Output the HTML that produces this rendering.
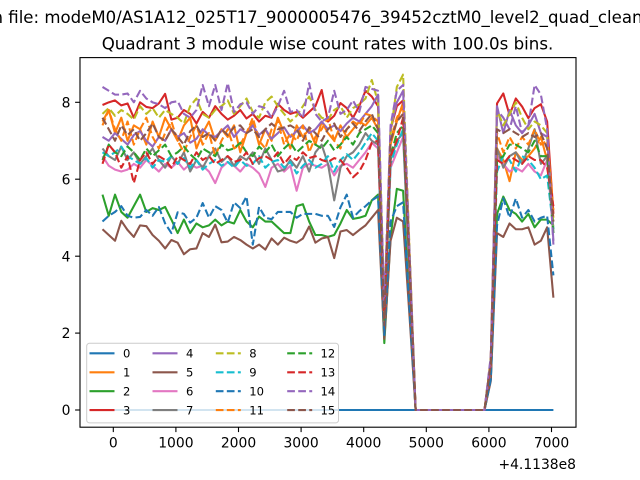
<!DOCTYPE html>
<html>
<head>
<meta charset="utf-8">
<style>
html,body{margin:0;padding:0;background:#fff;}
svg{display:block;}
text{font-family:"DejaVu Sans","Liberation Sans",sans-serif;fill:#000;}
.s{fill:none;stroke-width:2.08;vector-effect:non-scaling-stroke;stroke-linejoin:round;}
.d{stroke-dasharray:7.7 3.33;}
</style>
</head>
<body>
<svg width="640" height="480" viewBox="0 0 640 480" xmlns="http://www.w3.org/2000/svg">
<rect x="0" y="0" width="640" height="480" fill="#fff"/>
<defs><clipPath id="ax"><rect x="80" y="57.6" width="496" height="369.6"/></clipPath></defs>

<text x="-7.5" y="23" font-size="16.67" textLength="650" lengthAdjust="spacingAndGlyphs">n file: modeM0/AS1A12_025T17_9000005476_39452cztM0_level2_quad_clean</text>
<text x="101.7" y="49.3" font-size="16.67" textLength="451.6" lengthAdjust="spacingAndGlyphs">Quadrant 3 module wise count rates with 100.0s bins.</text>

<g clip-path="url(#ax)">
<g transform="matrix(6.2625 0 0 -38.46 102.5 410)">
<polyline class="s" stroke="#1f77b4" points="0,0 72,0"/>
<polyline class="s" stroke="#ff7f0e" points="0,7.5 1,7.8 2,7.2 3,7.6 4,7.0 5,7.4 6,7.3 7,6.9 8,7.5 9,7.1 10,7.6 11,7.3 12,7.0 13,7.4 14,7.6 15,6.8 16,7.2 17,7.5 18,7.0 19,7.3 20,7.1 21,7.4 22,6.7 23,7.2 24,7.5 25,6.9 26,7.3 27,7.0 28,7.6 29,7.2 30,6.8 31,7.4 32,7.1 33,7.3 34,6.9 35,7.5 36,7.2 37,7.0 38,7.4 39,7.1 40,7.3 41,7.5 42,7.4 43,7.6 44,7.3 45,2.4 46,6.9 47,7.5 48,8.0 49,4.2 50,0 61,0 62,1.1 63,6.8 64,6.5 65,5.95 66,6.7 67,6.5 68,6.6 69,6.8 70,7.1 71,6.5 72,5.0"/>
<polyline class="s" stroke="#2ca02c" points="0,5.6 1,5.05 2,5.6 3,5.15 4,5.0 5,5.3 6,5.6 7,5.15 8,5.25 9,5.2 10,5.28 11,4.95 12,4.6 13,4.95 14,4.6 15,4.85 16,4.75 17,4.8 18,4.95 19,4.8 20,4.9 21,4.85 22,5.2 23,4.9 24,4.75 25,5.03 26,4.9 27,4.9 28,4.75 29,4.6 30,4.6 31,5.3 32,5.35 33,4.9 34,4.55 35,4.55 36,4.5 37,4.55 38,4.85 39,5.2 40,4.97 41,5.0 42,5.05 43,5.45 44,5.6 45,1.74 46,4.5 47,5.75 48,5.7 49,2.8 50,0 61,0 62,0.8 63,5.1 64,5.55 65,5.2 66,5.1 67,4.9 68,5.1 69,4.75 70,4.95 71,4.95 72,4.8"/>
<polyline class="s" stroke="#d62728" points="0,7.93 1,8.0 2,8.05 3,7.92 4,7.97 5,7.6 6,8.0 7,7.88 8,7.85 9,7.97 10,8.22 11,7.55 12,7.6 13,7.8 14,7.7 15,7.45 16,7.75 17,7.6 18,7.9 19,7.7 20,7.55 21,7.65 22,7.8 23,7.58 24,7.7 25,7.5 26,7.65 27,7.6 28,7.96 29,7.8 30,7.7 31,7.75 32,7.6 33,7.75 34,7.9 35,8.32 36,7.5 37,7.65 38,7.98 39,7.85 40,7.6 41,7.9 42,8.3 43,8.15 44,7.9 45,2.5 46,7.3 47,7.9 48,8.05 49,4.0 50,0 61,0 62,1.3 63,7.97 64,8.23 65,7.67 66,8.1 67,7.89 68,7.59 69,7.85 70,7.95 71,7.5 72,5.1"/>
<polyline class="s" stroke="#9467bd" points="0,7.1 1,7.0 2,7.2 3,7.05 4,6.9 5,7.15 6,7.25 7,7.0 8,6.85 9,7.1 10,7.0 11,7.3 12,7.1 13,7.2 14,6.95 15,7.05 16,7.3 17,7.15 18,7.1 19,7.25 20,7.4 21,7.1 22,7.3 23,7.2 24,7.4 25,7.15 26,7.3 27,7.05 28,7.2 29,7.35 30,7.1 31,7.25 32,7.4 33,7.2 34,7.3 35,7.5 36,7.3 37,7.4 38,7.25 39,7.45 40,7.6 41,7.5 42,7.7 43,7.9 44,8.2 45,2.5 46,7.3 47,8.0 48,8.3 49,4.1 50,0 61,0 62,1.3 63,7.9 64,7.2 65,7.8 66,7.4 67,7.2 68,7.4 69,7.7 70,7.2 71,7.1 72,4.4"/>
<polyline class="s" stroke="#8c564b" points="0,4.7 1,4.55 2,4.4 3,4.92 4,4.68 5,4.5 6,4.8 7,4.78 8,4.55 9,4.4 10,4.2 11,4.42 12,4.35 13,4.05 14,4.18 15,4.2 16,4.6 17,4.5 18,4.82 19,4.36 20,4.38 21,4.5 22,4.42 23,4.3 24,4.2 25,4.3 26,4.17 27,4.46 28,4.3 29,4.48 30,4.4 31,4.35 32,4.46 33,4.77 34,4.35 35,4.46 36,4.5 37,3.95 38,4.64 39,4.68 40,4.55 41,4.68 42,4.8 43,5.0 44,5.2 45,1.85 46,4.4 47,5.0 48,4.9 49,2.5 50,0 61,0 62,0.75 63,4.6 64,4.5 65,4.85 66,4.7 67,4.7 68,4.75 69,4.3 70,4.4 71,4.75 72,2.92"/>
<polyline class="s" stroke="#e377c2" points="0,6.6 1,6.35 2,6.25 3,6.2 4,6.25 5,6.4 6,6.3 7,6.5 8,6.35 9,6.2 10,6.4 11,6.3 12,6.45 13,6.25 14,6.4 15,6.3 16,6.35 17,6.2 18,5.9 19,6.3 20,6.45 21,6.35 22,6.2 23,6.4 24,6.3 25,6.15 26,5.8 27,6.3 28,6.4 29,6.2 30,6.35 31,5.7 32,6.3 33,6.4 34,6.35 35,6.3 36,6.4 37,6.1 38,6.35 39,6.4 40,6.3 41,6.5 42,6.7 43,6.95 44,6.8 45,2.2 46,6.3 47,6.7 48,7.1 49,3.6 50,0 61,0 62,1.1 63,6.6 64,6.4 65,6.2 66,6.3 67,6.2 68,6.4 69,6.2 70,6.1 71,6.5 72,4.6"/>
<polyline class="s" stroke="#7f7f7f" points="0,6.8 1,6.6 2,6.5 3,6.85 4,6.5 5,6.7 6,6.4 7,6.6 8,6.8 9,6.5 10,6.3 11,6.6 12,6.4 13,6.7 14,6.2 15,6.5 16,6.3 17,6.6 18,6.8 19,6.45 20,6.6 21,6.35 22,6.6 23,6.5 24,6.7 25,6.4 26,6.8 27,6.5 28,6.2 29,6.25 30,6.5 31,6.3 32,6.6 33,6.2 34,6.7 35,6.9 36,6.4 37,5.45 38,6.3 39,6.6 40,6.7 41,6.9 42,7.2 43,7.0 44,6.9 45,2.3 46,6.5 47,7.0 48,7.2 49,3.7 50,0 61,0 62,1.15 63,6.8 64,6.3 65,6.6 66,6.7 67,6.4 68,6.8 69,7.3 70,6.4 71,6.6 72,4.7"/>
<polyline class="s d" stroke="#bcbd22" points="0,7.7 1,7.85 2,7.65 3,7.8 4,7.7 5,7.55 6,7.9 7,7.7 8,7.85 9,7.6 10,7.8 11,7.7 12,7.6 13,7.45 14,7.9 15,8.1 16,7.7 17,7.6 18,7.8 19,7.9 20,8.05 21,7.7 22,7.9 23,8.1 24,7.75 25,7.6 26,8.0 27,8.15 28,7.9 29,7.7 30,7.5 31,7.65 32,7.9 33,8.15 34,7.8 35,7.6 36,7.55 37,7.8 38,7.9 39,7.6 40,7.85 41,7.95 42,8.1 43,8.58 44,8.0 45,2.6 46,7.2 47,8.4 48,8.72 49,4.3 50,0 61,0 62,1.35 63,7.8 64,7.4 65,7.7 66,8.0 67,7.6 68,7.3 69,7.5 70,7.4 71,7.2 72,4.8"/>
<polyline class="s d" stroke="#17becf" points="0,6.7 1,6.6 2,6.7 3,6.85 4,6.6 5,6.5 6,6.4 7,6.55 8,6.3 9,6.5 10,6.45 11,6.6 12,6.4 13,6.55 14,6.3 15,6.5 16,6.25 17,6.4 18,6.5 19,6.35 20,6.45 21,6.3 22,6.5 23,6.35 24,6.4 25,6.6 26,6.3 27,6.45 28,6.5 29,6.3 30,6.45 31,6.15 32,6.35 33,6.5 34,6.3 35,6.4 36,6.6 37,6.2 38,6.5 39,6.65 40,6.5 41,6.7 42,6.95 43,7.2 44,7.0 45,2.3 46,6.4 47,6.9 48,7.3 49,3.7 50,0 61,0 62,1.15 63,6.2 64,6.6 65,6.5 66,6.2 67,6.6 68,6.5 69,6.3 70,6.0 71,6.1 72,4.7"/>
<polyline class="s d" stroke="#1f77b4" points="0,4.9 1,5.05 2,5.15 3,5.3 4,5.05 5,5.0 6,5.02 7,5.2 8,5.05 9,5.28 10,4.85 11,4.6 12,5.14 13,5.1 14,4.87 15,5.0 16,5.38 17,5.0 18,5.3 19,5.2 20,4.87 21,5.4 22,5.25 23,5.55 24,4.3 25,5.28 26,5.0 27,4.96 28,5.15 29,5.15 30,5.15 31,5.0 32,5.1 33,5.1 34,5.1 35,5.05 36,5.05 37,4.76 38,5.27 39,5.6 40,5.0 41,5.17 42,5.3 43,5.45 44,5.55 45,1.95 46,4.9 47,5.3 48,5.4 49,2.7 50,0 61,0 62,0.8 63,4.8 64,5.5 65,5.0 66,5.5 67,5.0 68,5.2 69,4.9 70,5.0 71,5.05 72,3.5"/>
<polyline class="s d" stroke="#ff7f0e" points="0,7.4 1,7.8 2,7.3 3,7.0 4,7.5 5,6.9 6,7.3 7,7.6 8,7.1 9,6.8 10,7.2 11,7.5 12,7.0 13,6.7 14,7.1 15,7.4 16,6.9 17,7.2 18,6.6 19,7.0 20,7.3 21,6.8 22,6.9 23,7.2 24,7.6 25,7.0 26,6.8 27,7.3 28,7.5 29,6.9 30,7.2 31,7.0 32,7.4 33,6.7 34,7.1 35,7.3 36,7.6 37,7.0 38,6.8 39,7.3 40,7.5 41,7.4 42,7.7 43,7.65 44,7.5 45,2.4 46,7.0 47,7.6 48,7.9 49,4.0 50,0 61,0 62,1.25 63,7.2 64,6.7 65,7.1 66,6.8 67,7.1 68,6.9 69,7.3 70,6.9 71,7.0 72,5.2"/>
<polyline class="s d" stroke="#2ca02c" points="0,6.5 1,6.9 2,6.7 3,6.6 4,6.85 5,6.7 6,6.5 7,6.8 8,6.6 9,6.75 10,6.9 11,6.6 12,6.7 13,6.85 14,6.65 15,6.5 16,6.8 17,6.7 18,6.6 19,6.9 20,6.75 21,6.8 22,6.95 23,6.7 24,6.6 25,6.85 26,6.7 27,6.9 28,6.6 29,6.8 30,6.95 31,6.7 32,6.85 33,7.0 34,6.9 35,6.8 36,7.0 37,6.75 38,6.9 39,7.1 40,6.9 41,7.2 42,7.3 43,7.4 44,7.2 45,2.3 46,6.6 47,7.2 48,7.4 49,3.8 50,0 61,0 62,1.2 63,6.5 64,6.6 65,6.9 66,6.9 67,6.8 68,6.7 69,7.0 70,6.6 71,6.6 72,4.6"/>
<polyline class="s d" stroke="#d62728" points="0,6.4 1,6.9 2,6.7 3,6.3 4,6.6 5,5.9 6,6.5 7,6.7 8,6.4 9,6.6 10,6.5 11,6.3 12,6.6 13,6.5 14,6.4 15,6.7 16,6.5 17,6.6 18,6.4 19,6.5 20,6.6 21,6.45 22,6.5 23,6.7 24,6.4 25,6.55 26,6.6 27,6.5 28,6.7 29,6.4 30,6.6 31,6.5 32,6.7 33,6.55 34,6.6 35,6.5 36,6.45 37,6.55 38,6.5 39,6.3 40,6.05 41,6.2 42,6.5 43,6.95 44,7.0 45,2.4 46,6.6 47,7.0 48,7.6 49,3.8 50,0 61,0 62,1.2 63,6.5 64,6.4 65,6.6 66,6.5 67,6.4 68,6.6 69,6.5 70,6.5 71,6.3 72,5.3"/>
<polyline class="s d" stroke="#9467bd" points="0,8.4 1,8.3 2,8.2 3,8.2 4,8.23 5,8.0 6,8.3 7,8.1 8,8.0 9,7.95 10,7.85 11,8.0 12,8.03 13,7.7 14,7.6 15,7.8 16,8.45 17,7.9 18,8.45 19,7.8 20,8.5 21,7.75 22,7.95 23,8.0 24,7.7 25,7.9 26,7.85 27,7.6 28,7.9 29,8.3 30,7.75 31,7.8 32,7.6 33,8.5 34,7.7 35,7.5 36,7.6 37,8.3 38,7.7 39,7.8 40,8.05 41,7.75 42,8.4 43,8.35 44,8.3 45,2.7 46,7.4 47,8.3 48,8.45 49,4.2 50,0 61,0 62,1.4 63,7.8 64,7.6 65,7.3 66,7.9 67,7.2 68,7.4 69,8.45 70,8.2 71,7.3 72,4.3"/>
<polyline class="s d" stroke="#8c564b" points="0,7.6 1,7.3 2,7.0 3,7.4 4,7.15 5,7.3 6,7.0 7,7.2 8,7.45 9,7.1 10,7.0 11,7.3 12,7.1 13,6.9 14,7.25 15,7.4 16,7.1 17,7.2 18,7.0 19,7.3 20,7.15 21,7.35 22,7.4 23,7.2 24,7.3 25,7.1 26,7.3 27,7.45 28,7.3 29,7.35 30,7.4 31,7.3 32,7.0 33,7.35 34,7.2 35,7.0 36,7.3 37,7.45 38,7.1 39,7.3 40,7.45 41,7.25 42,7.5 43,7.7 44,7.3 45,2.2 46,7.0 47,7.5 48,7.7 49,3.9 50,0 61,0 62,1.2 63,7.3 64,7.2 65,7.3 66,7.2 67,7.1 68,7.2 69,7.1 70,7.2 71,6.8 72,4.9"/>
</g>
</g>

<!-- axes frame -->
<rect x="80" y="57.6" width="496" height="369.6" fill="none" stroke="#000" stroke-width="1.1"/>

<!-- ticks -->
<g stroke="#000" stroke-width="1.1">
<line x1="113.3" y1="427.2" x2="113.3" y2="432.1"/>
<line x1="175.9" y1="427.2" x2="175.9" y2="432.1"/>
<line x1="238.5" y1="427.2" x2="238.5" y2="432.1"/>
<line x1="301.1" y1="427.2" x2="301.1" y2="432.1"/>
<line x1="363.7" y1="427.2" x2="363.7" y2="432.1"/>
<line x1="426.3" y1="427.2" x2="426.3" y2="432.1"/>
<line x1="488.9" y1="427.2" x2="488.9" y2="432.1"/>
<line x1="551.5" y1="427.2" x2="551.5" y2="432.1"/>
<line x1="75.1" y1="410" x2="80" y2="410"/>
<line x1="75.1" y1="333.1" x2="80" y2="333.1"/>
<line x1="75.1" y1="256.2" x2="80" y2="256.2"/>
<line x1="75.1" y1="179.2" x2="80" y2="179.2"/>
<line x1="75.1" y1="102.3" x2="80" y2="102.3"/>
</g>
<g font-size="13.89" text-anchor="middle">
<text x="113.3" y="447.3">0</text>
<text x="175.9" y="447.3">1000</text>
<text x="238.5" y="447.3">2000</text>
<text x="301.1" y="447.3">3000</text>
<text x="363.7" y="447.3">4000</text>
<text x="426.3" y="447.3">5000</text>
<text x="488.9" y="447.3">6000</text>
<text x="551.5" y="447.3">7000</text>
</g>
<text x="576" y="469" font-size="13.89" text-anchor="end">+4.1138e8</text>
<g font-size="13.89" text-anchor="end">
<text x="70.5" y="415.1">0</text>
<text x="70.5" y="338.2">2</text>
<text x="70.5" y="261.3">4</text>
<text x="70.5" y="184.3">6</text>
<text x="70.5" y="107.4">8</text>
</g>

<!-- legend -->
<rect x="86.7" y="343.3" width="251.8" height="79.6" rx="2.8" ry="2.8" fill="#fff" fill-opacity="0.8" stroke="#cccccc" stroke-width="1"/>
<g stroke-width="2.08" fill="none">
<line x1="89.5" y1="353.3" x2="114.5" y2="353.3" stroke="#1f77b4"/>
<line x1="89.5" y1="372.3" x2="114.5" y2="372.3" stroke="#ff7f0e"/>
<line x1="89.5" y1="391.2" x2="114.5" y2="391.2" stroke="#2ca02c"/>
<line x1="89.5" y1="410.1" x2="114.5" y2="410.1" stroke="#d62728"/>
<line x1="152.5" y1="353.3" x2="177.5" y2="353.3" stroke="#9467bd"/>
<line x1="152.5" y1="372.3" x2="177.5" y2="372.3" stroke="#8c564b"/>
<line x1="152.5" y1="391.2" x2="177.5" y2="391.2" stroke="#e377c2"/>
<line x1="152.5" y1="410.1" x2="177.5" y2="410.1" stroke="#7f7f7f"/>
<g stroke-dasharray="7.7 3.33">
<line x1="215.8" y1="353.3" x2="240.8" y2="353.3" stroke="#bcbd22"/>
<line x1="215.8" y1="372.3" x2="240.8" y2="372.3" stroke="#17becf"/>
<line x1="215.8" y1="391.2" x2="240.8" y2="391.2" stroke="#1f77b4"/>
<line x1="215.8" y1="410.1" x2="240.8" y2="410.1" stroke="#ff7f0e"/>
<line x1="287.2" y1="353.3" x2="312.2" y2="353.3" stroke="#2ca02c"/>
<line x1="287.2" y1="372.3" x2="312.2" y2="372.3" stroke="#d62728"/>
<line x1="287.2" y1="391.2" x2="312.2" y2="391.2" stroke="#9467bd"/>
<line x1="287.2" y1="410.1" x2="312.2" y2="410.1" stroke="#8c564b"/>
</g>
</g>
<g font-size="11.57">
<text x="123" y="357.5">0</text>
<text x="123" y="376.5">1</text>
<text x="123" y="395.4">2</text>
<text x="123" y="414.3">3</text>
<text x="186" y="357.5">4</text>
<text x="186" y="376.5">5</text>
<text x="186" y="395.4">6</text>
<text x="186" y="414.3">7</text>
<text x="249.3" y="357.5">8</text>
<text x="249.3" y="376.5">9</text>
<text x="249.3" y="395.4">10</text>
<text x="249.3" y="414.3">11</text>
<text x="320.5" y="357.5">12</text>
<text x="320.5" y="376.5">13</text>
<text x="320.5" y="395.4">14</text>
<text x="320.5" y="414.3">15</text>
</g>
</svg>
</body>
</html>
